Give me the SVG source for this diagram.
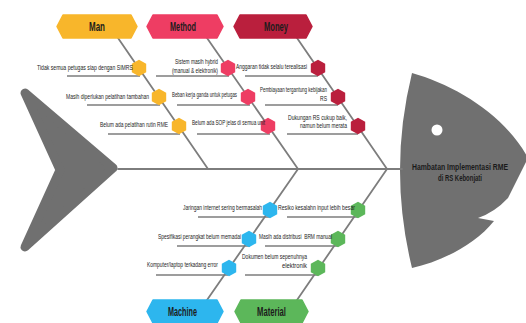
<svg xmlns="http://www.w3.org/2000/svg" xmlns:xlink="http://www.w3.org/1999/xlink" width="526" height="323" viewBox="0 0 526 323">
<style>
.bone{stroke:#7d7d7d;stroke-width:1.8;fill:none;stroke-linecap:round}
.ul{stroke:#7d7d7d;stroke-width:1.5;fill:none}
.fish{fill:#707070}
.t{font-family:"Liberation Sans",Arial,sans-serif;font-size:6.5px;fill:#222}
.lbl{font-family:"Liberation Sans",Arial,sans-serif;font-size:12px;font-weight:bold;fill:#1c1c1c}
.head{font-family:"Liberation Sans",Arial,sans-serif;font-size:9.5px;font-weight:bold;fill:#1a1a1a}
.man{fill:#F8B62B}
.method{fill:#EE3D63}
.money{fill:#BA1F3D}
.machine{fill:#2DB6EE}
.material{fill:#5CB75A}
</style>
<defs>
<polygon id="hx" points="0,-8.3 7.2,-4.15 7.2,4.15 0,8.3 -7.2,4.15 -7.2,-4.15"/>
</defs>
<rect width="526" height="323" fill="#ffffff"/>

<g id="tail">
<polygon class="fish" points="25,93 113,168 25,247 60,170" stroke="#707070" stroke-width="9" stroke-linejoin="round"/>
</g>

<g id="head">
<path class="fish" d="M412,73 C455,85 505,115 528,158 L508,198 Q495,212 478,218 L494,221 C475,245 440,262 412,268 Q388,170 412,73 Z"/>
<circle cx="437" cy="130" r="5.5" fill="#ffffff"/>
<text class="head" x="412" y="169.5" textLength="96" lengthAdjust="spacingAndGlyphs">Hambatan Implementasi RME</text>
<text class="head" x="438" y="180.5" textLength="44" lengthAdjust="spacingAndGlyphs">di RS Kebonjati</text>
</g>

<g id="connectors">
<line class="bone" x1="118" y1="169" x2="402" y2="169"/>
<line class="bone" x1="118" y1="38" x2="208" y2="169"/>
<line class="bone" x1="207" y1="38" x2="298" y2="169"/>
<line class="bone" x1="297" y1="38" x2="387" y2="169"/>
<line class="bone" x1="207" y1="300" x2="298" y2="169"/>
<line class="bone" x1="297" y1="300" x2="387" y2="169"/>
<line class="ul" x1="67" y1="76" x2="140" y2="76"/>
<line class="ul" x1="87" y1="105" x2="160" y2="105"/>
<line class="ul" x1="108" y1="134" x2="180" y2="134"/>
<line class="ul" x1="156" y1="76" x2="229" y2="76"/>
<line class="ul" x1="177" y1="105" x2="250" y2="105"/>
<line class="ul" x1="197" y1="134" x2="270" y2="134"/>
<line class="ul" x1="245" y1="76" x2="318" y2="76"/>
<line class="ul" x1="265" y1="105" x2="338" y2="105"/>
<line class="ul" x1="287" y1="134" x2="358" y2="134"/>
<line class="ul" x1="198" y1="217" x2="270" y2="217"/>
<line class="ul" x1="177" y1="246" x2="250" y2="246"/>
<line class="ul" x1="156" y1="275" x2="228" y2="275"/>
<line class="ul" x1="287" y1="217" x2="358" y2="217"/>
<line class="ul" x1="265" y1="246" x2="338" y2="246"/>
<line class="ul" x1="245" y1="275" x2="318" y2="275"/>
</g>

<g id="cat-man">
<polygon class="man" points="57,26.5 63,15 131,15 137,26.5 131,38 63,38" stroke="#F8B62B" stroke-width="1.5" stroke-linejoin="round"/>
<text class="lbl" x="89" y="31" textLength="16" lengthAdjust="spacingAndGlyphs">Man</text>
</g>
<g id="cat-method">
<polygon class="method" points="147,26.5 153,15 217,15 223,26.5 217,38 153,38" stroke="#EE3D63" stroke-width="1.5" stroke-linejoin="round"/>
<text class="lbl" x="170" y="31" textLength="26" lengthAdjust="spacingAndGlyphs">Method</text>
</g>
<g id="cat-money">
<polygon class="money" points="234,26.5 240,15 306,15 312,26.5 306,38 240,38" stroke="#BA1F3D" stroke-width="1.5" stroke-linejoin="round"/>
<text class="lbl" x="264" y="31" textLength="24" lengthAdjust="spacingAndGlyphs">Money</text>
</g>
<g id="cat-machine">
<polygon class="machine" points="147,311.5 153,300 217,300 223,311.5 217,323 153,323" stroke="#2DB6EE" stroke-width="1.5" stroke-linejoin="round"/>
<text class="lbl" x="168" y="316" textLength="29" lengthAdjust="spacingAndGlyphs">Machine</text>
</g>
<g id="cat-material">
<polygon class="material" points="235,311.5 241,300 302,300 308,311.5 302,323 241,323" stroke="#5CB75A" stroke-width="1.5" stroke-linejoin="round"/>
<text class="lbl" x="257" y="316" textLength="29" lengthAdjust="spacingAndGlyphs">Material</text>
</g>

<g id="man-1"><use xlink:href="#hx" class="man" x="139" y="68"/><text class="t" x="37" y="70" textLength="96" lengthAdjust="spacingAndGlyphs">Tidak semua petugas siap dengan SIMRS</text></g>
<g id="man-2"><use xlink:href="#hx" class="man" x="159" y="97"/><text class="t" x="66" y="99" textLength="83" lengthAdjust="spacingAndGlyphs">Masih diperlukan pelatihan tambahan</text></g>
<g id="man-3"><use xlink:href="#hx" class="man" x="179" y="126"/><text class="t" x="100" y="127" textLength="68" lengthAdjust="spacingAndGlyphs">Belum ada pelatihan rutin RME</text></g>

<g id="method-1"><use xlink:href="#hx" class="method" x="228" y="68"/><text class="t" x="175" y="64" textLength="43" lengthAdjust="spacingAndGlyphs">Sistem masih hybrid</text><text class="t" x="172" y="73" textLength="46" lengthAdjust="spacingAndGlyphs">(manual &amp; elektronik)</text></g>
<g id="method-2"><use xlink:href="#hx" class="method" x="248" y="97"/><text class="t" x="172" y="97" textLength="65" lengthAdjust="spacingAndGlyphs">Beban kerja ganda untuk petugas</text></g>
<g id="method-3"><use xlink:href="#hx" class="method" x="268" y="126"/><text class="t" x="192" y="125" textLength="73" lengthAdjust="spacingAndGlyphs">Belum ada SOP jelas di semua unit</text></g>

<g id="money-1"><use xlink:href="#hx" class="money" x="318" y="68"/><text class="t" x="236" y="69" textLength="71" lengthAdjust="spacingAndGlyphs">Anggaran tidak selalu terealisasi</text></g>
<g id="money-2"><use xlink:href="#hx" class="money" x="338" y="97"/><text class="t" x="260" y="92" textLength="67" lengthAdjust="spacingAndGlyphs">Pembiayaan tergantung kebijakan</text><text class="t" x="320" y="101" textLength="7" lengthAdjust="spacingAndGlyphs">RS</text></g>
<g id="money-3"><use xlink:href="#hx" class="money" x="358" y="126"/><text class="t" x="288" y="120" textLength="59" lengthAdjust="spacingAndGlyphs">Dukungan RS cukup baik,</text><text class="t" x="300" y="128" textLength="47" lengthAdjust="spacingAndGlyphs">namun belum merata</text></g>

<g id="machine-1"><use xlink:href="#hx" class="machine" x="270" y="210"/><text class="t" x="183" y="210" textLength="79" lengthAdjust="spacingAndGlyphs">Jaringan internet sering bermasalah</text></g>
<g id="machine-2"><use xlink:href="#hx" class="machine" x="249" y="239"/><text class="t" x="158" y="239" textLength="83" lengthAdjust="spacingAndGlyphs">Spesifikasi perangkat belum memadai</text></g>
<g id="machine-3"><use xlink:href="#hx" class="machine" x="229" y="268"/><text class="t" x="147" y="267" textLength="71" lengthAdjust="spacingAndGlyphs">Komputer/laptop terkadang error</text></g>

<g id="material-1"><use xlink:href="#hx" class="material" x="358" y="210"/><text class="t" x="278" y="210" textLength="77" lengthAdjust="spacingAndGlyphs">Resiko kesalahn input lebih besar</text></g>
<g id="material-2"><use xlink:href="#hx" class="material" x="338" y="239"/><text class="t" x="259" y="239" textLength="73" lengthAdjust="spacingAndGlyphs">Masih ada distribusi&#160; BRM manual</text></g>
<g id="material-3"><use xlink:href="#hx" class="material" x="318" y="268"/><text class="t" x="242" y="259" textLength="65" lengthAdjust="spacingAndGlyphs">Dokumen belum sepenuhnya</text><text class="t" x="282" y="268" textLength="25" lengthAdjust="spacingAndGlyphs">elektronik</text></g>
</svg>
